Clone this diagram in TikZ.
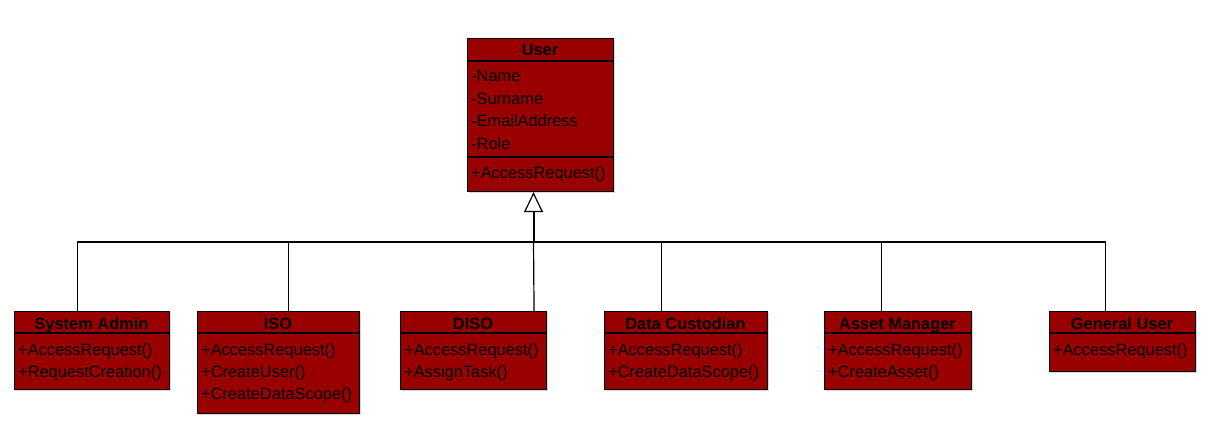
\documentclass[tikz,border=0pt]{standalone}
\usepackage{fontspec}
\setmainfont{Liberation Sans}
\usetikzlibrary{arrows.meta,shadows}
\definecolor{umlred}{HTML}{990000}
\begin{document}
\begin{tikzpicture}[x=1pt,y=-1pt,
  classbox/.style={draw=black,line width=1.1pt,fill=umlred,inner sep=0,anchor=north west,
    drop shadow={shadow xshift=1.3pt,shadow yshift=-1.3pt,fill=black!30}},
  titletext/.style={font=\fontsize{16.4}{18}\selectfont\bfseries,inner sep=0,anchor=base,text=black},
  member/.style={font=\fontsize{16.4}{18}\selectfont,inner sep=0,anchor=base west,text=black},
  sep/.style={draw=black,line width=1.2pt},
  conn/.style={draw=black,line width=1.2pt}]
\useasboundingbox (0,0) rectangle (1214,441);

% User
\node[classbox,minimum width=146pt,minimum height=153pt] (user) at (467,38) {};
\node[titletext] (usert) at (540,56) {User};
\draw[sep] (user.west |- 0,61) -- (user.east |- 0,61);
\draw[sep] (user.west |- 0,157) -- (user.east |- 0,157);
\node[member] (u1) at (471,82) {-Name};
\node[member] (u2) at (471,104.3) {-Surname};
\node[member] (u3) at (471,126.6) {-EmailAddress};
\node[member] (u4) at (471,149) {-Role};
\node[member] (u5) at (471,178) {+AccessRequest()};

% System Admin
\node[classbox,minimum width=155pt,minimum height=78pt] (sa) at (14,311) {};
\node[titletext] (sat) at (91.5,329) {System Admin};
\draw[sep] (sa.west |- 0,333) -- (sa.east |- 0,333);
\node[member] (sa1) at (18,355) {+AccessRequest()};
\node[member] (sa2) at (18,377.3) {+RequestCreation()};

% ISO
\node[classbox,minimum width=162pt,minimum height=102pt] (iso) at (197,311) {};
\node[titletext] (isot) at (278,329) {ISO};
\draw[sep] (iso.west |- 0,333) -- (iso.east |- 0,333);
\node[member] (iso1) at (201,355) {+AccessRequest()};
\node[member] (iso2) at (201,377.3) {+CreateUser()};
\node[member] (iso3) at (201,399.6) {+CreateDataScope()};

% DISO
\node[classbox,minimum width=146pt,minimum height=78pt] (diso) at (400,311) {};
\node[titletext] (disot) at (473,329) {DISO};
\draw[sep] (diso.west |- 0,333) -- (diso.east |- 0,333);
\node[member] (diso1) at (404,355) {+AccessRequest()};
\node[member] (diso2) at (404,377.3) {+AssignTask()};

% Data Custodian
\node[classbox,minimum width=163pt,minimum height=78pt] (dc) at (604,311) {};
\node[titletext] (dct) at (685.5,329) {Data Custodian};
\draw[sep] (dc.west |- 0,333) -- (dc.east |- 0,333);
\node[member] (dc1) at (608,355) {+AccessRequest()};
\node[member] (dc2) at (608,377.3) {+CreateDataScope()};

% Asset Manager
\node[classbox,minimum width=147pt,minimum height=78pt] (am) at (824,311) {};
\node[titletext] (amt) at (897.5,329) {Asset Manager};
\draw[sep] (am.west |- 0,333) -- (am.east |- 0,333);
\node[member] (am1) at (828,355) {+AccessRequest()};
\node[member] (am2) at (828,377.3) {+CreateAsset()};

% General User
\node[classbox,minimum width=146pt,minimum height=60pt] (gu) at (1049,311) {};
\node[titletext] (gut) at (1122,329) {General User};
\draw[sep] (gu.west |- 0,333) -- (gu.east |- 0,333);
\node[member] (gu1) at (1053,355) {+AccessRequest()};

% Connectors
\coordinate (hub) at (533.5,242);
\draw[conn] ([xshift=-14.5pt]sa.north) |- (hub);
\draw[conn] ([xshift=10pt]iso.north) |- (hub);
\draw[conn] ([xshift=60.5pt]diso.north) -- (hub);
\draw[conn] ([xshift=-24.5pt]dc.north) |- (hub);
\draw[conn] ([xshift=-16.5pt]am.north) |- (hub);
\draw[conn] ([xshift=-17pt]gu.north) |- (hub);
\draw[line width=2pt,-{Triangle[open,length=20pt,width=19pt,line width=1.2pt]}] (hub) -- (hub |- user.south);
\end{tikzpicture}
\end{document}
